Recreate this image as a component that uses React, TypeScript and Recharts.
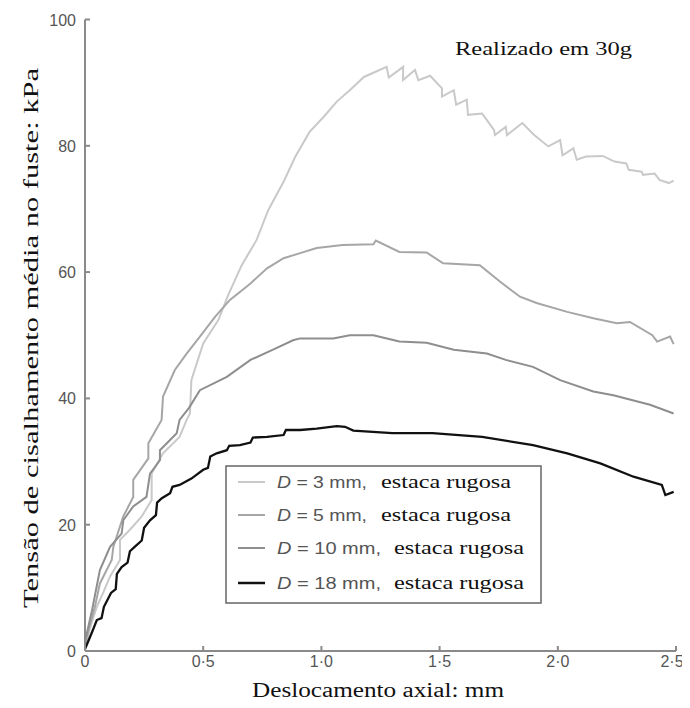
import React from 'react';
import { LineChart, Line, XAxis, YAxis, Legend, Customized } from 'recharts';

// displacement (mm), mean shaft shear stress (kPa)
const d3mm: [number, number][] = [
  [0, 0.5], [0.02, 3.5], [0.05, 7.0], [0.08, 9.5], [0.106, 11.8], [0.148, 14.4], [0.148, 17.6],
  [0.19, 19.2], [0.24, 21.3], [0.282, 23.9], [0.282, 28.1], [0.33, 31.3], [0.4, 33.9], [0.43, 36.6],
  [0.444, 37.6], [0.45, 42.9], [0.5, 48.7], [0.564, 52.4], [0.606, 56.4], [0.663, 61.1], [0.726, 65.1],
  [0.775, 69.8], [0.84, 74.3], [0.89, 78.3], [0.95, 82.2], [1.01, 84.6], [1.065, 87.0], [1.12, 88.8],
  [1.18, 90.9], [1.234, 91.8], [1.276, 92.5], [1.285, 90.8], [1.346, 92.5], [1.345, 90.4], [1.396, 92.0],
  [1.41, 90.4], [1.46, 91.1], [1.51, 89.1], [1.51, 87.8], [1.56, 88.8], [1.57, 86.5], [1.615, 87.3],
  [1.62, 84.9], [1.68, 85.1], [1.73, 82.5], [1.734, 81.7], [1.78, 83.0], [1.785, 81.7], [1.85, 83.6],
  [1.9, 81.7], [1.96, 79.9], [2.01, 80.9], [2.02, 78.5], [2.066, 79.6], [2.08, 77.8], [2.12, 78.3],
  [2.19, 78.4], [2.24, 77.5], [2.29, 77.2], [2.3, 76.2], [2.355, 75.9], [2.36, 75.4], [2.41, 75.6],
  [2.43, 74.6], [2.47, 74.1], [2.49, 74.5],
];

const d5mm: [number, number][] = [
  [0, 1.0], [0.02, 4.0], [0.042, 7.0], [0.063, 10.7], [0.113, 14.4], [0.12, 16.5], [0.162, 21.3],
  [0.204, 24.4], [0.204, 27.1], [0.268, 30.5], [0.268, 32.9], [0.324, 36.6], [0.33, 40.3], [0.38, 44.5],
  [0.43, 47.1], [0.486, 49.8], [0.55, 52.9], [0.613, 55.6], [0.7, 58.2], [0.77, 60.6], [0.84, 62.2],
  [0.91, 63.0], [0.98, 63.8], [1.09, 64.3], [1.22, 64.4], [1.23, 65.0], [1.33, 63.2], [1.445, 63.1],
  [1.515, 61.4], [1.67, 61.1], [1.755, 58.5], [1.84, 56.1], [1.91, 55.1], [2.04, 53.7], [2.15, 52.7],
  [2.25, 51.9], [2.305, 52.1], [2.4, 50.0], [2.42, 49.0], [2.475, 49.8], [2.49, 48.6],
];

const d10mm: [number, number][] = [
  [0, 1.5], [0.03, 6.5], [0.063, 12.8], [0.106, 16.5], [0.155, 18.6], [0.162, 20.7], [0.204, 22.9],
  [0.26, 24.4], [0.275, 28.1], [0.317, 30.2], [0.317, 31.8], [0.388, 34.5], [0.4, 36.6], [0.44, 38.5],
  [0.486, 41.3], [0.6, 43.4], [0.7, 46.1], [0.8, 47.8], [0.88, 49.2], [0.91, 49.5], [1.05, 49.5],
  [1.12, 50.0], [1.22, 50.0], [1.33, 49.0], [1.445, 48.8], [1.56, 47.7], [1.7, 47.1], [1.78, 46.1],
  [1.895, 45.0], [2.01, 42.9], [2.15, 41.1], [2.235, 40.5], [2.39, 39.0], [2.49, 37.6],
];

const d18mm: [number, number][] = [
  [0, 0.3], [0.03, 3.0], [0.05, 4.9], [0.07, 5.2], [0.08, 7.0], [0.11, 9.2], [0.13, 9.8], [0.135, 12.2],
  [0.155, 13.3], [0.18, 14.0], [0.19, 15.8], [0.21, 16.5], [0.24, 17.5], [0.25, 19.5], [0.275, 20.7],
  [0.3, 21.5], [0.305, 23.5], [0.325, 24.2], [0.36, 25.0], [0.37, 26.0], [0.4, 26.3], [0.45, 27.3],
  [0.5, 28.7], [0.52, 29.0], [0.53, 30.8], [0.557, 31.3], [0.6, 31.8], [0.61, 32.5], [0.655, 32.6],
  [0.7, 33.0], [0.71, 33.8], [0.77, 33.9], [0.84, 34.2], [0.85, 35.0], [0.91, 35.0], [0.98, 35.2],
  [1.065, 35.6], [1.1, 35.5], [1.135, 34.9], [1.3, 34.5], [1.47, 34.5], [1.68, 33.9], [1.895, 32.6],
  [2.04, 31.3], [2.18, 29.7], [2.32, 27.6], [2.44, 26.3], [2.455, 24.7], [2.49, 25.2],
];

const seriesNames = [
  'D = 3 mm, estaca rugosa',
  'D = 5 mm, estaca rugosa',
  'D = 10 mm, estaca rugosa',
  'D = 18 mm, estaca rugosa',
];
const seriesColors = ['#c9c9c9', '#a6a6a6', '#8e8e8e', '#111111'];
const seriesData = [d3mm, d5mm, d10mm, d18mm];

const xTicks = [0, 0.5, 1, 1.5, 2, 2.5];
const xTickLabels = ['0', '0·5', '1·0', '1·5', '2·0', '2·5'];
const yTicks = [0, 20, 40, 60, 80, 100];

const toRows = (pts: [number, number][]) => pts.map(([x, y]) => ({ x, y }));

const SANS = '"Liberation Sans", Arial, sans-serif';
const SERIF = '"Liberation Serif", "Times New Roman", serif';

function XTick({ x, y, payload }: any) {
  const i = xTicks.indexOf(payload.value);
  return (
    <text x={x} y={y + 13} textAnchor="middle" fontFamily={SANS} fontSize={16} fill="#555">
      {xTickLabels[i]}
    </text>
  );
}

function YTick({ x, y, payload }: any) {
  return (
    <text x={x} y={y + 6} textAnchor="end" fontFamily={SANS} fontSize={16} fill="#555">
      {payload.value}
    </text>
  );
}

function Titles() {
  return (
    <g>
      <text x={447} y={47} fontFamily={SERIF} fontSize={18} textLength={177} lengthAdjust="spacingAndGlyphs" fill="#111">
        Realizado em 30g
      </text>
      <text x={244} y={689} fontFamily={SERIF} fontSize={20} textLength={252} lengthAdjust="spacingAndGlyphs" fill="#111">
        Deslocamento axial: mm
      </text>
      <text
        transform="translate(30, 330) rotate(-90)"
        x={0}
        y={0}
        textAnchor="middle"
        fontFamily={SERIF}
        fontSize={22}
        textLength={540}
        lengthAdjust="spacingAndGlyphs"
        fill="#111"
      >
        Tensão de cisalhamento média no fuste: kPa
      </text>
    </g>
  );
}

const rowY = [17, 50, 83, 118];

function LegendBox({ payload }: any) {
  const items = [...(payload || [])].sort(
    (a: any, b: any) => seriesNames.indexOf(a.value) - seriesNames.indexOf(b.value)
  );
  return (
    <svg width={318} height={140} style={{ display: 'block' }}>
      <rect x={1} y={1} width={315} height={137} fill="#fff" stroke="#666" strokeWidth={1.5} />
      {items.map((item: any, i: number) => {
        const [head, tail] = String(item.value).split(', ');
        const wide = head.length > 8;
        const y = rowY[i];
        return (
          <g key={item.value}>
            <line x1={13} x2={40} y1={y} y2={y} stroke={item.color} strokeWidth={i === 3 ? 2.5 : 2} />
            <text x={52} y={y + 6} fontFamily={SANS} fontSize={17} fill="#555"
              textLength={wide ? 104 : 90} lengthAdjust="spacingAndGlyphs">
              <tspan fontStyle="italic">D</tspan>
              {head.slice(1)},
            </text>
            <text x={wide ? 169 : 156} y={y + 6} fontFamily={SERIF} fontSize={19} fill="#111"
              textLength={130} lengthAdjust="spacingAndGlyphs">
              {tail}
            </text>
          </g>
        );
      })}
    </svg>
  );
}

export default function App() {
  return (
    <>
      <style>{'.recharts-surface { overflow: visible; }'}</style>
      <LineChart width={674} height={692} margin={{ top: 11.5, right: 6, bottom: 19, left: 0 }}>
        <XAxis
          type="number"
          dataKey="x"
          domain={[0, 2.5]}
          ticks={xTicks}
          height={30}
          stroke="#8a8a8a"
          strokeWidth={2}
          tickSize={-5}
          tickMargin={8}
          tick={<XTick />}
          allowDataOverflow
        />
        <YAxis
          type="number"
          dataKey="y"
          domain={[0, 100]}
          ticks={yTicks}
          width={77}
          stroke="#8a8a8a"
          strokeWidth={2}
          tickSize={-5}
          tickMargin={14}
          tick={<YTick />}
        />
        {seriesData.map((pts, i) => (
          <Line
            key={seriesNames[i]}
            data={toRows(pts)}
            dataKey="y"
            name={seriesNames[i]}
            type="linear"
            stroke={seriesColors[i]}
            strokeWidth={i === 3 ? 2.3 : 2}
            dot={false}
            isAnimationActive={false}
          />
        ))}
        <Legend
          layout="horizontal"
          align="center"
          verticalAlign="middle"
          content={<LegendBox />}
          wrapperStyle={{ position: 'absolute', left: 217, top: 457, width: 318, height: 140 }}
        />
        <Customized component={<Titles />} />
      </LineChart>
    </>
  );
}
